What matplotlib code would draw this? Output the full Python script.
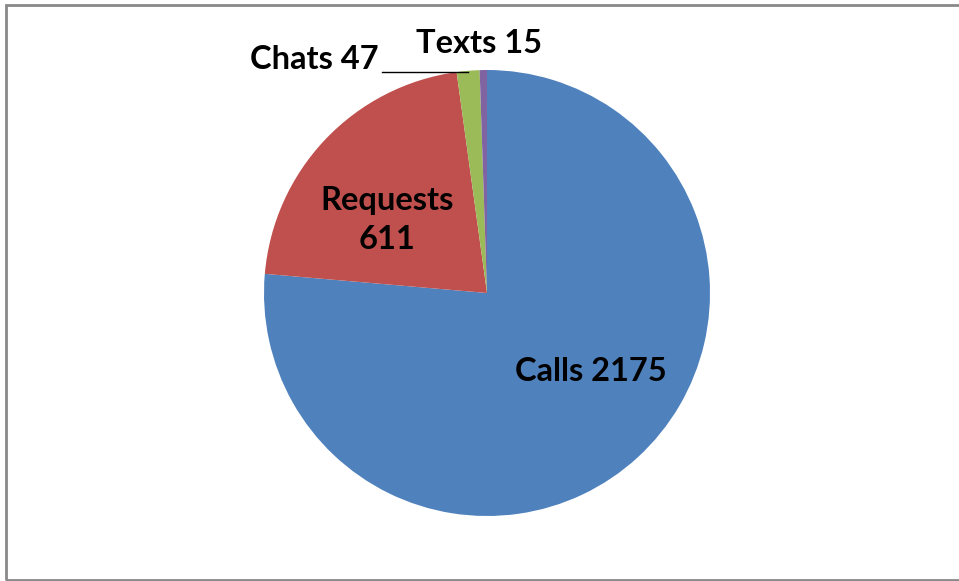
import matplotlib.pyplot as plt
from matplotlib.patches import Rectangle

labels = ["Calls", "Requests", "Chats", "Texts"]
values = [2175, 611, 47, 15]
colors = ["#4F81BD", "#C0504D", "#9BBB59", "#8064A2"]

W, H = 959, 581
fig = plt.figure(figsize=(W / 100, H / 100), dpi=100)

# outer chart border (right side runs off the image)
fig.patches.append(Rectangle((6 / W, 1.5 / H), 1.2, 575 / H, transform=fig.transFigure,
                             fill=False, edgecolor="#898989", linewidth=2))

cx, cy, r = 487, H - 293, 223
ax = fig.add_axes([(cx - r) / W, (cy - r) / H, 2 * r / W, 2 * r / H])
ax.pie(values, colors=colors, startangle=90, counterclock=False, radius=1,
       wedgeprops=dict(linewidth=0))
ax.set_xlim(-1, 1)
ax.set_ylim(-1, 1)
ax.set_aspect("equal")
ax.axis("off")

font = dict(family="Lato", fontweight="bold", fontsize=23.5, color="black")
ax.text(0.466, -0.354, f"{labels[0]} {values[0]}", ha="center", va="center", **font)
ax.text(-0.448, 0.327, f"{labels[1]}\n{values[1]}", ha="center", va="center",
        linespacing=1.42, **font)
ax.text(-0.775, 1.045, f"{labels[2]} {values[2]}", ha="center", va="center", **font)
ax.text(-0.034, 1.117, f"{labels[3]} {values[3]}", ha="center", va="center", **font)
ax.plot([-0.471, -0.085], [0.991, 0.991], color="black", linewidth=1, clip_on=False)

fig.savefig("out.png", dpi=100)
